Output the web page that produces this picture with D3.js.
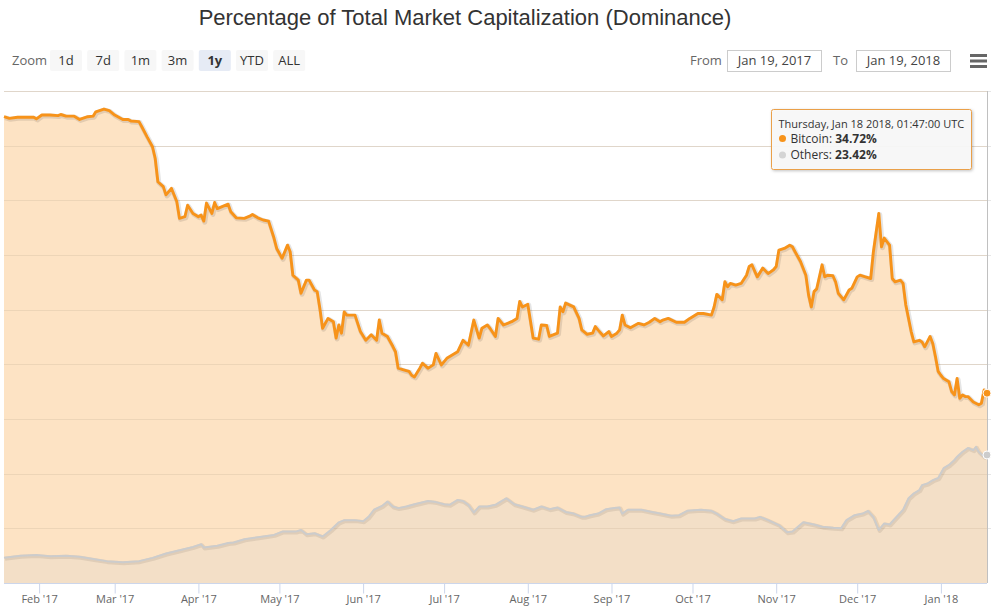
<!DOCTYPE html>
<html><head><meta charset="utf-8">
<script src="https://cdn.jsdelivr.net/npm/d3@7"></script>
<style>body{margin:0;background:#fff;} svg{display:block;}</style>
</head><body>
<svg id="chart" width="991" height="612"></svg>
<script>
// ---------------- DATA ----------------
const btcDates = ["2017-01-19","2017-01-21","2017-01-24","2017-01-30","2017-01-31","2017-02-02","2017-02-05","2017-02-08","2017-02-09","2017-02-11","2017-02-14","2017-02-16","2017-02-19","2017-02-21","2017-02-22","2017-02-25","2017-02-27","2017-03-01","2017-03-04","2017-03-06","2017-03-07","2017-03-10","2017-03-11","2017-03-13","2017-03-15","2017-03-16","2017-03-17","2017-03-19","2017-03-20","2017-03-22","2017-03-24","2017-03-25","2017-03-27","2017-03-28","2017-03-30","2017-04-01","2017-04-02","2017-04-03","2017-04-04","2017-04-06","2017-04-07","2017-04-08","2017-04-12","2017-04-13","2017-04-15","2017-04-18","2017-04-20","2017-04-21","2017-04-23","2017-04-25","2017-04-27","2017-04-29","2017-04-30","2017-05-02","2017-05-04","2017-05-05","2017-05-06","2017-05-08","2017-05-09","2017-05-11","2017-05-12","2017-05-14","2017-05-15","2017-05-16","2017-05-17","2017-05-19","2017-05-21","2017-05-22","2017-05-23","2017-05-24","2017-05-25","2017-05-26","2017-05-29","2017-05-31","2017-06-02","2017-06-04","2017-06-06","2017-06-07","2017-06-08","2017-06-10","2017-06-12","2017-06-13","2017-06-14","2017-06-16","2017-06-18","2017-06-19","2017-06-20","2017-06-22","2017-06-23","2017-06-25","2017-06-27","2017-06-28","2017-06-30","2017-07-02","2017-07-04","2017-07-06","2017-07-08","2017-07-10","2017-07-12","2017-07-14","2017-07-15","2017-07-17","2017-07-18","2017-07-20","2017-07-21","2017-07-23","2017-07-26","2017-07-28","2017-07-29","2017-07-30","2017-08-01","2017-08-03","2017-08-05","2017-08-06","2017-08-08","2017-08-09","2017-08-12","2017-08-13","2017-08-14","2017-08-15","2017-08-18","2017-08-20","2017-08-21","2017-08-23","2017-08-25","2017-08-26","2017-08-27","2017-08-29","2017-08-31","2017-09-01","2017-09-03","2017-09-04","2017-09-05","2017-09-06","2017-09-08","2017-09-11","2017-09-13","2017-09-15","2017-09-17","2017-09-19","2017-09-20","2017-09-22","2017-09-25","2017-09-28","2017-09-30","2017-10-03","2017-10-05","2017-10-08","2017-10-09","2017-10-10","2017-10-12","2017-10-13","2017-10-14","2017-10-15","2017-10-17","2017-10-19","2017-10-21","2017-10-22","2017-10-23","2017-10-25","2017-10-27","2017-10-29","2017-10-31","2017-11-01","2017-11-02","2017-11-04","2017-11-06","2017-11-07","2017-11-08","2017-11-10","2017-11-12","2017-11-13","2017-11-14","2017-11-15","2017-11-16","2017-11-18","2017-11-19","2017-11-20","2017-11-22","2017-11-23","2017-11-24","2017-11-26","2017-11-28","2017-11-29","2017-12-01","2017-12-02","2017-12-04","2017-12-06","2017-12-07","2017-12-09","2017-12-10","2017-12-11","2017-12-13","2017-12-14","2017-12-15","2017-12-17","2017-12-18","2017-12-19","2017-12-21","2017-12-22","2017-12-24","2017-12-25","2017-12-26","2017-12-28","2017-12-29","2017-12-30","2017-12-31","2018-01-01","2018-01-02","2018-01-04","2018-01-05","2018-01-06","2018-01-07","2018-01-08","2018-01-09","2018-01-10","2018-01-11","2018-01-13","2018-01-15","2018-01-16","2018-01-17","2018-01-18T01:47:00Z"];
const btcValues = [85.3,85.0,85.2,85.2,84.9,85.6,85.6,85.5,85.7,85.4,85.4,84.8,85.3,85.4,86.2,86.7,86.4,85.6,84.8,84.8,84.5,84.4,83.5,81.6,79.8,77.7,73.4,72.5,71.0,72.2,69.8,66.7,67.0,69.1,67.6,67.0,67.3,66.2,69.5,67.6,69.6,68.5,69.3,67.9,66.8,66.7,67.1,67.4,66.8,66.4,66.2,63.1,61.2,59.4,61.8,60.6,56.3,55.4,53.0,55.4,55.4,53.6,53.3,50.2,46.6,48.4,47.8,44.8,47.2,45.7,49.6,49.0,49.0,46.0,44.4,45.4,44.4,48.1,45.7,45.1,43.3,42.3,39.3,39.0,38.7,38.0,37.7,39.3,40.2,39.3,39.9,42.0,39.9,41.1,41.7,42.3,44.4,43.5,48.1,44.8,46.6,47.2,46.6,45.1,48.4,47.2,47.8,48.4,51.5,50.5,51.0,44.8,44.6,47.2,47.1,45.1,45.7,50.5,49.6,51.2,50.5,48.4,46.3,45.5,45.7,46.9,46.3,45.2,46.0,45.1,45.7,46.3,49.0,47.2,46.7,47.5,47.2,47.7,48.4,47.8,48.1,48.4,47.7,47.7,48.4,49.3,49.3,49.0,50.5,52.8,51.8,55.1,54.2,54.8,54.5,54.8,56.3,57.9,58.2,56.0,57.6,56.6,57.3,57.9,60.9,61.2,61.8,61.5,60.6,58.8,56.3,52.7,50.5,53.3,53.8,58.2,56.0,56.3,56.2,55.1,53.0,51.8,53.6,53.9,56.0,56.3,56.0,55.7,60.6,67.6,61.5,63.1,61.8,55.7,55.1,55.4,54.8,50.9,46.0,44.1,44.4,44.1,43.2,45.1,43.8,41.4,38.7,38.0,37.4,36.8,35.0,34.4,37.4,33.8,34.4,34.1,34.1,33.1,32.6,32.9,35.3,34.72];

const othDates = ["2017-01-19","2017-01-25","2017-01-31","2017-02-05","2017-02-11","2017-02-16","2017-02-21","2017-02-26","2017-03-04","2017-03-10","2017-03-15","2017-03-20","2017-03-25","2017-03-30","2017-04-02","2017-04-03","2017-04-08","2017-04-12","2017-04-14","2017-04-18","2017-04-25","2017-04-29","2017-05-02","2017-05-07","2017-05-09","2017-05-11","2017-05-14","2017-05-17","2017-05-20","2017-05-23","2017-05-25","2017-05-29","2017-06-01","2017-06-03","2017-06-05","2017-06-08","2017-06-10","2017-06-12","2017-06-14","2017-06-17","2017-06-20","2017-06-25","2017-06-28","2017-07-01","2017-07-03","2017-07-06","2017-07-08","2017-07-10","2017-07-12","2017-07-14","2017-07-17","2017-07-20","2017-07-21","2017-07-24","2017-07-27","2017-07-30","2017-08-03","2017-08-06","2017-08-09","2017-08-12","2017-08-15","2017-08-18","2017-08-21","2017-08-22","2017-08-24","2017-08-27","2017-08-30","2017-09-02","2017-09-04","2017-09-05","2017-09-07","2017-09-12","2017-09-16","2017-09-19","2017-09-23","2017-09-26","2017-09-29","2017-10-04","2017-10-08","2017-10-10","2017-10-13","2017-10-16","2017-10-19","2017-10-24","2017-10-26","2017-10-29","2017-11-02","2017-11-05","2017-11-07","2017-11-11","2017-11-15","2017-11-18","2017-11-22","2017-11-25","2017-11-27","2017-11-30","2017-12-03","2017-12-05","2017-12-07","2017-12-09","2017-12-11","2017-12-13","2017-12-15","2017-12-18","2017-12-20","2017-12-22","2017-12-24","2017-12-25","2017-12-27","2017-12-29","2017-12-31","2018-01-02","2018-01-04","2018-01-06","2018-01-07","2018-01-09","2018-01-11","2018-01-13","2018-01-14","2018-01-15","2018-01-17","2018-01-18T01:47:00Z"];
const othValues = [4.6,5.0,5.1,4.9,5.0,4.8,4.4,4.0,3.8,4.0,4.6,5.4,6.0,6.6,7.1,6.5,6.8,7.3,7.4,8.0,8.5,8.8,9.4,9.4,9.7,8.9,9.1,8.5,9.7,11.1,11.5,11.5,11.3,12.1,13.4,14.1,14.9,14.0,13.7,14.0,14.4,15.0,14.8,14.4,14.3,15.2,15.0,14.3,12.9,14.0,14.0,14.3,14.6,15.5,14.4,14.0,13.4,14.0,13.5,13.8,13.0,12.7,12.1,12.1,12.4,12.7,13.5,13.7,13.8,12.7,13.4,13.4,13.0,12.7,12.3,12.4,13.2,13.4,13.2,12.7,11.7,11.3,11.8,11.8,12.1,11.5,10.6,9.3,9.4,11.1,10.7,10.3,10.1,10.0,11.5,12.4,12.7,13.2,12.1,9.7,10.9,10.7,11.8,13.4,15.5,16.4,17.0,17.9,18.2,18.8,19.2,21.0,21.6,22.5,23.1,24.0,24.7,24.3,24.9,24.0,23.1,23.42];

const monthTicks = ["2017-02-01","2017-03-01","2017-04-01","2017-05-01","2017-06-01","2017-07-01","2017-08-01","2017-09-01","2017-10-01","2017-11-01","2017-12-01","2018-01-01"];
const yGridValues = [10,20,30,40,50,60,70,80,90];
const zoomButtons = ["1d","7d","1m","3m","1y","YTD","ALL"];
const selectedZoom = "1y";
const titleText = "Percentage of Total Market Capitalization (Dominance)";
const fromText = "Jan 19, 2017", toText = "Jan 19, 2018";
const tooltipTitle = "Thursday, Jan 18 2018, 01:47:00 UTC";
const seriesNames = ["Bitcoin","Others"];

// ---------------- CHART ----------------
const UI = "'Open Sans', sans-serif";
const L = 4, R = 987, T = 91, B = 583;
const btcColor = "#f7931a", othColor = "#cccccc";
const svg = d3.select("#chart");

const defs = svg.append("defs");
const f = defs.append("filter").attr("id","tipShadow").attr("x","-10%").attr("y","-10%").attr("width","130%").attr("height","140%");
f.append("feDropShadow").attr("dx",1).attr("dy",1).attr("stdDeviation",1.5).attr("flood-color","#000").attr("flood-opacity",0.25);

const x = d3.scaleUtc().domain([new Date("2017-01-19T00:00:00Z"), new Date("2018-01-18T01:47:00Z")]).range([L, R]);
const y = d3.scaleLinear().domain([0, 90]).range([B, T]);

const parse = d => new Date(d.length===10 ? d+"T00:00:00Z" : d);
const btc = btcDates.map((d,i)=>({date:parse(d), v:btcValues[i]}));
const oth = othDates.map((d,i)=>({date:parse(d), v:othValues[i]}));

// Title
svg.append("text").attr("x",465).attr("y",25).attr("text-anchor","middle")
  .attr("font-family","'Liberation Sans', Arial, sans-serif").attr("font-size",22).attr("fill","#333")
  .text(titleText);

// Zoom buttons
svg.append("text").attr("x",12).attr("y",65).attr("font-family",UI).attr("font-size",13).attr("fill","#666").text("Zoom");
const bg = svg.append("g").selectAll("g").data(zoomButtons).join("g")
  .attr("transform",(d,i)=>`translate(${50+i*37.2},50)`);
bg.append("rect").attr("width",32).attr("height",21).attr("rx",2)
  .attr("fill",d=>d===selectedZoom?"#e6ebf5":"#f7f7f7");
bg.append("text").attr("x",16).attr("y",15).attr("text-anchor","middle")
  .attr("font-family",UI).attr("font-size",13).attr("fill","#333")
  .attr("font-weight",d=>d===selectedZoom?"bold":"normal").text(d=>d);

// From / To
svg.append("text").attr("x",690).attr("y",65).attr("font-family",UI).attr("font-size",13).attr("fill","#666").text("From");
svg.append("rect").attr("x",727.5).attr("y",50.5).attr("width",94).attr("height",21).attr("fill","none").attr("stroke","#ccc");
svg.append("text").attr("x",774.5).attr("y",65).attr("text-anchor","middle").attr("font-family",UI).attr("font-size",13).attr("fill","#444").text(fromText);
svg.append("text").attr("x",833).attr("y",65).attr("font-family",UI).attr("font-size",13).attr("fill","#666").text("To");
svg.append("rect").attr("x",856.5).attr("y",50.5).attr("width",94).attr("height",21).attr("fill","none").attr("stroke","#ccc");
svg.append("text").attr("x",903.5).attr("y",65).attr("text-anchor","middle").attr("font-family",UI).attr("font-size",13).attr("fill","#444").text(toText);
// hamburger
svg.append("g").selectAll("rect").data([0,1,2]).join("rect")
  .attr("x",970).attr("y",d=>54+d*5.5).attr("width",17).attr("height",3).attr("fill","#666");

// Gridlines
svg.append("g").selectAll("line").data(yGridValues).join("line")
  .attr("x1",L).attr("x2",991).attr("y1",d=>Math.round(y(d))+0.5).attr("y2",d=>Math.round(y(d))+0.5)
  .attr("stroke","#e6e6e6").attr("stroke-width",1);

// Areas
const area = d3.area().x(d=>x(d.date)).y0(y(0)).y1(d=>y(d.v));
const line = d3.line().x(d=>x(d.date)).y(d=>y(d.v));
svg.append("path").datum(btc).attr("d",area).attr("fill","#fde3c4");
svg.append("path").datum(oth).attr("d",area).attr("fill","#f3dfc7");

// gridlines faintly visible through the fill
svg.append("g").selectAll("line").data(yGridValues).join("line")
  .attr("x1",L).attr("x2",R).attr("y1",d=>Math.round(y(d))+0.5).attr("y2",d=>Math.round(y(d))+0.5)
  .attr("stroke","#d9c4a8").attr("stroke-opacity",0.45).attr("stroke-width",1);

// Lines with shadow
svg.append("path").datum(oth).attr("d",line).attr("fill","none").attr("stroke","#000").attr("stroke-opacity",0.08)
  .attr("stroke-width",4).attr("transform","translate(1,1)").attr("stroke-linejoin","round");
svg.append("path").datum(oth).attr("d",line).attr("fill","none").attr("stroke",othColor).attr("stroke-width",2).attr("stroke-linejoin","round");
svg.append("path").datum(btc).attr("d",line).attr("fill","none").attr("stroke","#000").attr("stroke-opacity",0.1)
  .attr("stroke-width",5).attr("transform","translate(1,1)").attr("stroke-linejoin","round");
svg.append("path").datum(btc).attr("d",line).attr("fill","none").attr("stroke",btcColor).attr("stroke-width",2.9).attr("stroke-linejoin","round");

// Crosshair at hovered point
svg.append("line").attr("x1",R+0.5).attr("x2",R+0.5).attr("y1",T).attr("y2",B).attr("stroke","#c0c0c0").attr("stroke-width",1);

// X axis
const xAxis = d3.axisBottom(x).tickValues(monthTicks.map(parse))
  .tickFormat(d3.utcFormat("%b '%y")).tickSize(10).tickPadding(2);
const ax = svg.append("g").attr("transform",`translate(0,${B+0.5})`).call(xAxis);
ax.select(".domain").attr("d",`M${L},0H${R}`).attr("stroke","#ccd6eb");
ax.selectAll(".tick line").attr("stroke","#ccd6eb");
ax.selectAll(".tick text").attr("font-family",UI).attr("font-size",11).attr("fill","#666");

// Markers at last point
const lastB = btc[btc.length-1], lastO = oth[oth.length-1];
svg.append("circle").attr("cx",x(lastB.date)).attr("cy",y(lastB.v)).attr("r",4).attr("fill",btcColor).attr("stroke","#fff").attr("stroke-width",1);
svg.append("circle").attr("cx",x(lastO.date)).attr("cy",y(lastO.v)).attr("r",4).attr("fill",othColor).attr("stroke","#fff").attr("stroke-width",1);

// Tooltip
const tip = svg.append("g").attr("transform","translate(771.5,109.5)");
tip.append("rect").attr("width",200).attr("height",60).attr("rx",2).attr("fill","rgba(249,249,249,0.92)")
  .attr("stroke","#eaa04a").attr("stroke-width",1).attr("filter","url(#tipShadow)");
tip.append("text").attr("x",7).attr("y",18).attr("font-family",UI).attr("font-size",11).attr("fill","#333").text(tooltipTitle);
const rows = [{name:seriesNames[0], v:lastB.v, c:btcColor},{name:seriesNames[1], v:lastO.v, c:"#d4d4d4"}];
rows.forEach((r,i)=>{
  tip.append("circle").attr("cx",11).attr("cy",29+i*16.5).attr("r",3.5).attr("fill",r.c);
  const t = tip.append("text").attr("x",19).attr("y",33+i*16.5).attr("font-family",UI).attr("font-size",12).attr("fill","#333");
  t.append("tspan").text(r.name+": ");
  t.append("tspan").attr("font-weight","bold").text(r.v.toFixed(2)+"%");
});
</script>
</body></html>
